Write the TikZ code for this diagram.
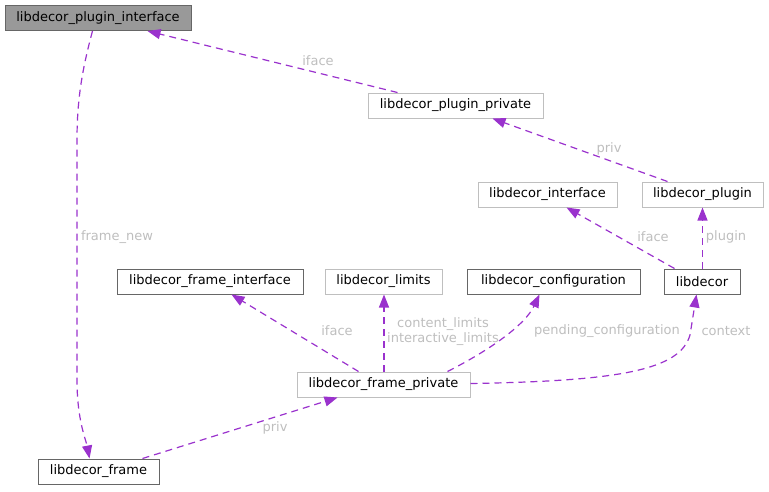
\documentclass[tikz,border=0pt]{standalone}
\usepackage{fontspec}
\setmainfont{DejaVu Sans}
\usetikzlibrary{arrows.meta,calc}
\definecolor{edgec}{HTML}{9A32CD}
\definecolor{labc}{HTML}{BEBEBE}
\definecolor{darkb}{HTML}{666666}
\definecolor{lightb}{HTML}{BFBFBF}
\definecolor{fillg}{HTML}{999999}
\begin{document}
\begin{tikzpicture}[x=1pt,y=-1pt,
  box/.style={draw=darkb,line width=1pt,minimum height=25pt,inner sep=0pt,font=\fontsize{13}{15}\selectfont,text=black,fill=white},
  lbox/.style={box,draw=lightb},
  edge/.style={color=edgec,line width=1.2pt,dash pattern=on 7pt off 5pt,-{Triangle[length=13pt,width=10pt]}},
  lab/.style={text=labc,font=\fontsize{13}{15}\selectfont,inner sep=0pt}]
\useasboundingbox (0,0) rectangle (769,491);
\node[box,fill=fillg,minimum width=186pt] (pi) at (98,18) {libdecor\_plugin\_interface};
\node[lbox,minimum width=175pt] (pp) at (455.5,105.5) {libdecor\_plugin\_private};
\node[lbox,minimum width=139pt] (li) at (547.5,194.5) {libdecor\_interface};
\node[lbox,minimum width=121pt] (lp) at (702.5,194.5) {libdecor\_plugin};
\node[box,minimum width=186pt] (fi) at (210,281.5) {libdecor\_frame\_interface};
\node[lbox,minimum width=117pt] (lim) at (383.5,281.5) {libdecor\_limits};
\node[box,minimum width=173pt] (conf) at (553.5,281.5) {libdecor\_configuration};
\node[box,minimum width=76pt] (ld) at (702,281.5) {libdecor};
\node[lbox,minimum width=173pt] (fp) at (383.5,384.5) {libdecor\_frame\_private};
\node[box,minimum width=121pt] (fr) at (98.5,471.5) {libdecor\_frame};

% edges
\draw[edge] ($(pp.north west)+(30,0)$) -- ($(pi.south west)+(143,0)$);
\draw[edge] ($(lp.north west)+(26,0)$) -- ($(pp.south west)+(125,0)$);
\draw[edge] ($(ld.north west)+(11,0)$) -- ($(li.south west)+(89,0)$);
\draw[edge] ($(ld.north)+(0.5,0)$) -- ($(lp.south)+(0,0)$);
\draw[edge] ($(fp.north west)+(62,0)$) -- ($(fi.south west)+(115,0)$);
\draw[edge] ($(fp.north)+(0.5,0)$) -- ($(lim.south)+(0.5,0)$);
\draw[edge] ($(fp.north west)+(151,0)$) .. controls (490,350) and (525,325) .. ($(conf.south west)+(73,0)$);
\draw[edge] ($(fp.east)+(0,-1)$) .. controls (620,381) and (680,370) .. (690,335) -- ($(ld.south west)+(33,0)$);
\draw[edge] ($(fr.north west)+(105,0)$) -- ($(fp.south west)+(41,0)$);
\draw[edge] ($(pi.south west)+(88,0)$) .. controls (82,70) and (77,100) .. (77,140) -- (77,380) .. controls (77,420) and (86,440) .. ($(fr.north west)+(52,0)$);

% labels
\node[lab] (l1) at (318,61) {iface};
\node[lab] (l2) at (609,149) {priv};
\node[lab] (l3) at (653,237) {iface};
\node[lab] (l4) at (726,237) {plugin};
\node[lab] (l5) at (117,237) {frame\_new};
\node[lab] (l6) at (337,331) {iface};
\node[lab,align=center] (l7) at (443,332) {content\_limits\\interactive\_limits};
\node[lab] (l8) at (607,331) {pending\_configuration};
\node[lab] (l9) at (726,331) {context};
\node[lab] (l10) at (275,428) {priv};
\end{tikzpicture}
\end{document}
